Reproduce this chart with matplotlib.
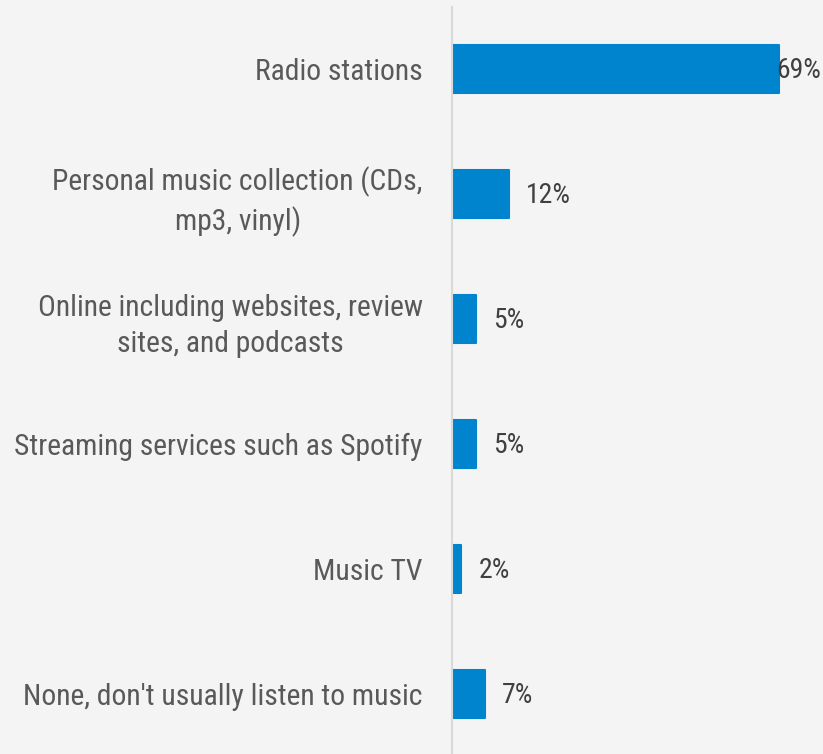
import matplotlib.pyplot as plt
from matplotlib import font_manager

categories = [
    "Radio stations",
    "Personal music collection (CDs,\nmp3, vinyl)",
    "Online including websites, review\nsites, and podcasts",
    "Streaming services such as Spotify",
    "Music TV",
    "None, don't usually listen to music",
]
values = [69, 12, 5, 5, 2, 7]

# prefer a condensed face when one is installed
names = {f.name for f in font_manager.fontManager.ttflist}
narrow = [n for n in ("Liberation Sans Narrow", "Roboto Condensed", "Open Sans Condensed")
          if n in names]
family = narrow[0] if narrow else "Liberation Sans"
label_size = 21.3 if narrow else 18.8
value_size = 20 if narrow else 16
plt.rcParams['font.family'] = [family, 'DejaVu Sans']

bg = '#f4f4f4'
blue = '#0084cd'

fig = plt.figure(figsize=(8.23, 7.54), dpi=100, facecolor=bg)
ax = fig.add_axes([452 / 823, 0, 1 - 452 / 823, 747 / 754])
ax.set_facecolor(bg)

y = list(range(len(values)))
ax.barh(y, values, height=0.39, color=blue, edgecolor=blue, linewidth=1.5,
        joinstyle='round', zorder=2)

xmax = 371 / 4.74
ax.set_xlim(0, xmax)
ax.set_ylim(5.48, -0.496)

for yi, v in zip(y, values):
    if v + 3.6 + 9 > xmax:
        ax.text(xmax - 0.5, yi + 0.01, f"{v}%", va='center', ha='right',
                fontsize=value_size, color='#404040', zorder=3)
    else:
        ax.text(v + 3.6, yi + 0.01, f"{v}%", va='center', ha='left',
                fontsize=value_size, color='#404040', zorder=3)

ax.set_yticks(y)
ax.set_yticklabels(categories, fontsize=label_size, color='#595959',
                   multialignment='center', linespacing=1.36)
ax.tick_params(axis='y', length=0, pad=21)
ax.set_xticks([])

for s in ['top', 'right', 'bottom']:
    ax.spines[s].set_visible(False)
ax.spines['left'].set_color('#d9d9d9')
ax.spines['left'].set_linewidth(1.5)

fig.savefig('out.png', dpi=100, facecolor=bg)
